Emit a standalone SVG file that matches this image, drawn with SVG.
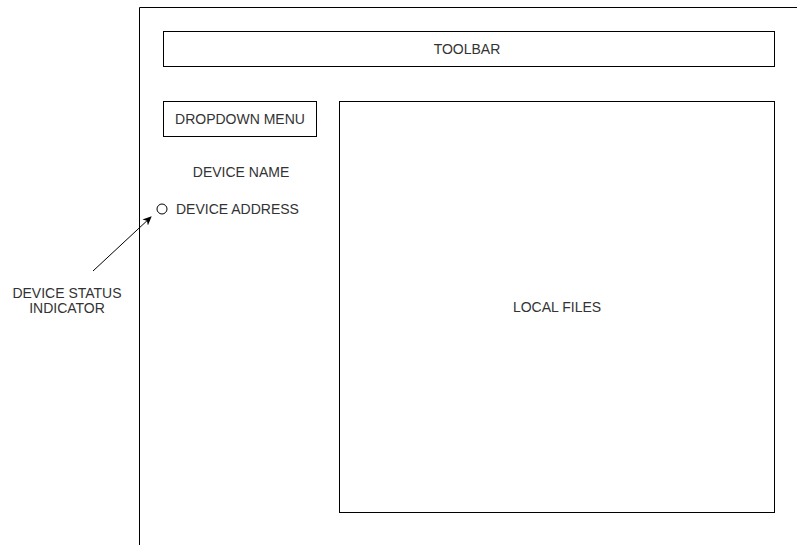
<svg xmlns="http://www.w3.org/2000/svg" width="797" height="545" viewBox="0 0 797 545">
<style>
.box{fill:#fff;stroke:#000;stroke-width:1}
.t{font-family:"Liberation Sans",Arial,sans-serif;font-size:14px;fill:#333;text-anchor:middle}
.tl{text-anchor:start}
</style>
<defs>
<marker id="ah" markerWidth="10" markerHeight="10" refX="8" refY="5" orient="auto" markerUnits="userSpaceOnUse">
<path d="M0,1 L9,5 L0,9 L2.5,5 Z" fill="#000"/>
</marker>
</defs>
<rect width="797" height="545" fill="#fff"/>
<g id="frame"><path d="M139.5,545 V7.5 H797" fill="none" stroke="#000"/></g>
<g id="toolbar"><rect class="box" x="163.5" y="31.5" width="611" height="35"/><text class="t" x="467" y="54">TOOLBAR</text></g>
<g id="dropdown"><rect class="box" x="163.5" y="101.5" width="153" height="35"/><text class="t" x="240" y="124">DROPDOWN MENU</text></g>
<g id="device-name"><text class="t" x="241" y="177">DEVICE NAME</text></g>
<g id="device-address"><circle cx="162" cy="209" r="5" fill="#fff" stroke="#000"/><text class="t tl" x="176" y="214">DEVICE ADDRESS</text></g>
<g id="local-files"><rect class="box" x="339.5" y="101.5" width="435" height="411"/><text class="t" x="557" y="312">LOCAL FILES</text></g>
<g id="status-label"><text class="t" x="67" y="298">DEVICE STATUS</text><text class="t" x="67" y="313">INDICATOR</text></g>
<g id="connectors"><line x1="93" y1="271" x2="151" y2="217" stroke="#000" marker-end="url(#ah)"/></g>
</svg>
